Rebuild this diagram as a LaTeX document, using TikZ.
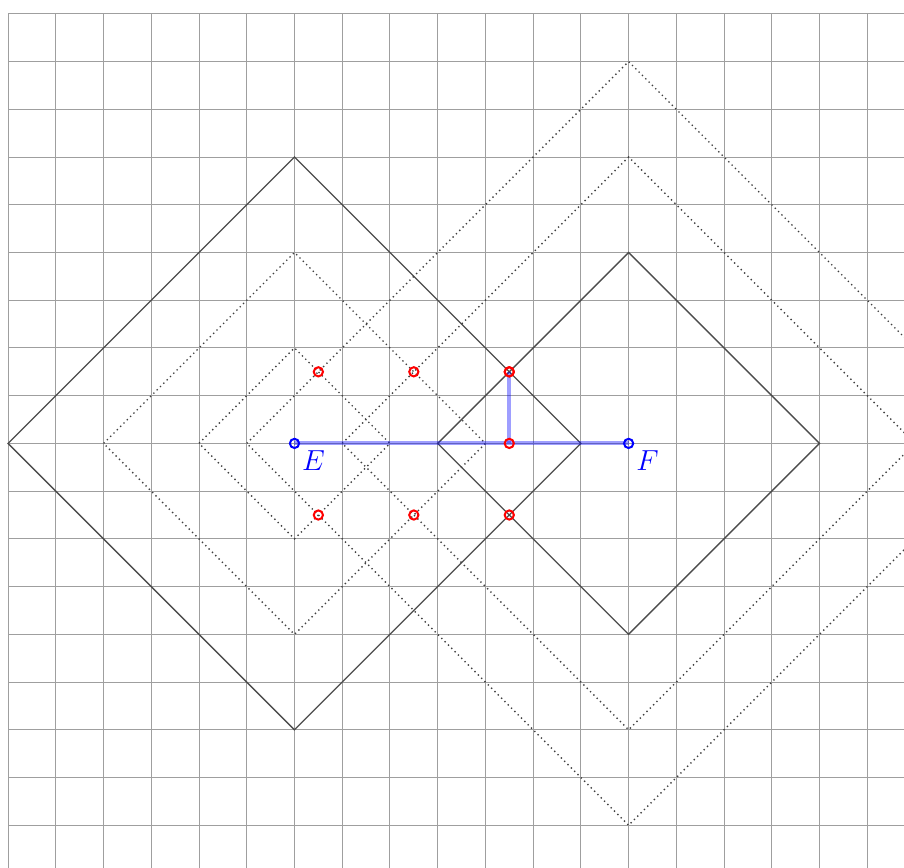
\documentclass[tikz,border=0pt]{standalone}
\usepackage{amsmath}
\usetikzlibrary{backgrounds}

\begin{document}
\begin{tikzpicture}[scale = 1,
	ball/.style={black!70, line width=0.8pt},
	ring/.style={black!75, line width=0.8pt, dotted},
	dot/.style={shape=circle, draw=#1, line width=1.2pt, inner sep=0pt, minimum size=5.5pt},
	route/.style={blue, opacity=0.38, line width=2.4pt}]

	\useasboundingbox (-6.17,-8.89) rectangle (12.77,9.29);
	\clip (-6.17,-8.89) rectangle (12.77,9.29);

	\node[dot=blue] (E) at (0,0) {};
	\node[dot=blue] (F) at (7,0) {};
	\node[dot=red] (M) at (4.5,0) {};
	\node[dot=red] (P) at (4.5,1.5) {};
	\foreach \x in {0.5,2.5,4.5} {
		\foreach \y in {1.5,-1.5} {
			\node[dot=red] at (\x,\y) {};
			}
		}

	\node[blue, anchor=north west, inner sep=2pt, font=\LARGE] (lE) at (E.south east) {$E$};
	\node[blue, anchor=north west, inner sep=2pt, font=\LARGE] (lF) at (F.south east) {$F$};

	\begin{pgfonlayer}{background}
	\draw[gray!75, line width=0.6pt] (-6,-9) grid (13,9);

	% balls around E
	\draw[ball] (-6,0) -- (0,6) -- (6,0) -- (0,-6) -- cycle;
	\foreach \r in {2,4} {
		\draw[ring] (-\r,0) -- (0,\r) -- (\r,0) -- (0,-\r) -- cycle;
		}
	% balls around F
	\draw[ball] (3,0) -- (7,4) -- (11,0) -- (7,-4) -- cycle;
	\foreach \r in {6,8} {
		\pgfmathsetmacro{\a}{7-\r};
		\pgfmathsetmacro{\b}{7+\r};
		\draw[ring] (\a,0) -- (7,\r) -- (\b,0) -- (7,-\r) -- cycle;
		}

	\draw[route] (E.center) -- (F.center);
	\draw[route] (M.center) -- (P.center);
	\end{pgfonlayer}
\end{tikzpicture}
\end{document}
